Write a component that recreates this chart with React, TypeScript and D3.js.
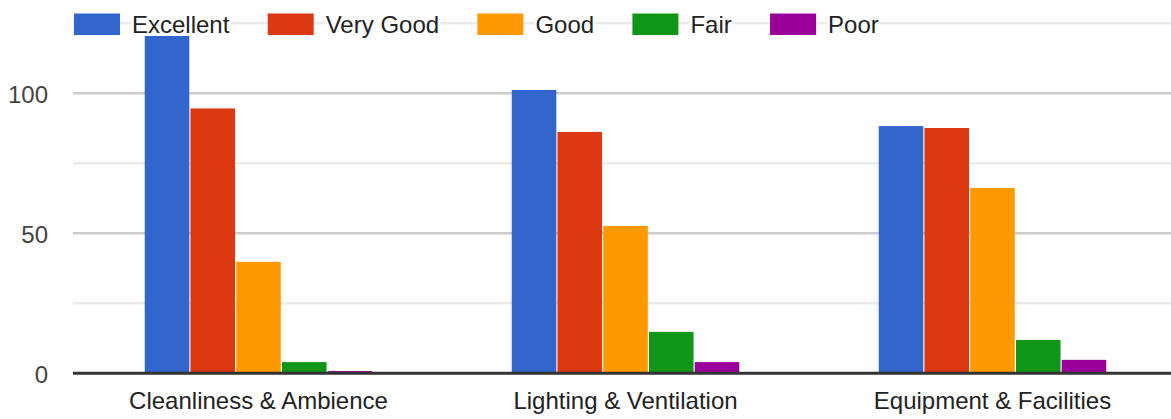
import React, { useEffect, useRef } from "react";
import * as d3 from "d3";

const categories = ["Cleanliness & Ambience", "Lighting & Ventilation", "Equipment & Facilities"];
const seriesNames = ["Excellent", "Very Good", "Good", "Fair", "Poor"];
const seriesColors = ["#3366cc", "#dc3912", "#ff9900", "#109618", "#990099"];
const excellent = [120.5, 101.2, 88.3];
const veryGood = [94.6, 86.2, 87.6];
const good = [39.8, 52.6, 66.2];
const fair = [4, 14.8, 11.9];
const poor = [0.8, 4, 4.8];
const seriesValues = [excellent, veryGood, good, fair, poor];
const majorTicks = [0, 50, 100];
const minorTicks = [25, 75, 125];

const W = 1171;
const H = 419;
const FONT = "'Liberation Sans', Arial, sans-serif";

export default function App() {
  const ref = useRef<SVGSVGElement | null>(null);

  useEffect(() => {
    const svg = d3.select(ref.current);
    svg.selectAll("*").remove();

    const baseY = 373.3;
    const y = d3.scaleLinear().domain([0, 50]).range([baseY, baseY - 140]);
    const plotLeft = 73;

    const x0 = d3.scaleBand<string>().domain(categories).range([75, 1176]).paddingInner(0.38).paddingOuter(0.19);
    const x1 = d3.scaleBand<string>().domain(seriesNames).range([0, x0.bandwidth()]).paddingInner(0.025);

    // gridlines
    const g = svg.append("g");
    g.selectAll("line.minor").data(minorTicks).join("line")
      .attr("x1", plotLeft).attr("x2", W)
      .attr("y1", d => y(d)).attr("y2", d => y(d))
      .attr("stroke", "#ebebeb").attr("stroke-width", 2.5);
    g.selectAll("line.major").data(majorTicks.filter(t => t !== 0)).join("line")
      .attr("x1", plotLeft).attr("x2", W)
      .attr("y1", d => y(d)).attr("y2", d => y(d))
      .attr("stroke", "#cccccc").attr("stroke-width", 2.5);

    // tick labels
    svg.append("g").selectAll("text").data(majorTicks).join("text")
      .attr("x", 48).attr("y", d => y(d) + 10)
      .attr("text-anchor", "end")
      .attr("font-family", FONT).attr("font-size", 24)
      .attr("fill", "#444444")
      .text(d => String(d));

    // bars
    const bars = svg.append("g");
    seriesNames.forEach((s, si) => {
      bars.append("g").selectAll("rect").data(seriesValues[si]).join("rect")
        .attr("x", (d, i) => (x0(categories[i]) as number) + (x1(s) as number))
        .attr("width", x1.bandwidth())
        .attr("y", d => y(d))
        .attr("height", d => baseY - y(d))
        .attr("fill", seriesColors[si]);
    });

    // baseline
    svg.append("line")
      .attr("x1", plotLeft).attr("x2", W)
      .attr("y1", baseY).attr("y2", baseY)
      .attr("stroke", "#333333").attr("stroke-width", 3);

    // category labels
    svg.append("g").selectAll("text").data(categories).join("text")
      .attr("x", d => (x0(d) as number) + x0.bandwidth() / 2)
      .attr("y", 409)
      .attr("text-anchor", "middle")
      .attr("font-family", FONT).attr("font-size", 24)
      .attr("fill", "#222222")
      .text(d => d);

    // legend
    const lg = svg.append("g");
    let lx = 74;
    seriesNames.forEach((s, si) => {
      const item = lg.append("g");
      item.append("rect")
        .attr("x", lx).attr("y", 13.5).attr("width", 46).attr("height", 21.5)
        .attr("fill", seriesColors[si]);
      const bg = item.append("rect").attr("fill", "#ffffff");
      const t = item.append("text")
        .attr("x", lx + 58).attr("y", 32.5)
        .attr("font-family", FONT).attr("font-size", 24)
        .attr("fill", "#222222")
        .text(s);
      const tw = (t.node() as SVGTextElement).getComputedTextLength();
      bg.attr("x", lx + 57).attr("y", 12).attr("width", tw + 2).attr("height", 24);
      lx = lx + 58 + tw + 38.3;
    });
  }, []);

  return (
    <svg ref={ref} width={W} height={H} style={{ position: "absolute", left: 0, top: 0, background: "#ffffff" }} />
  );
}
